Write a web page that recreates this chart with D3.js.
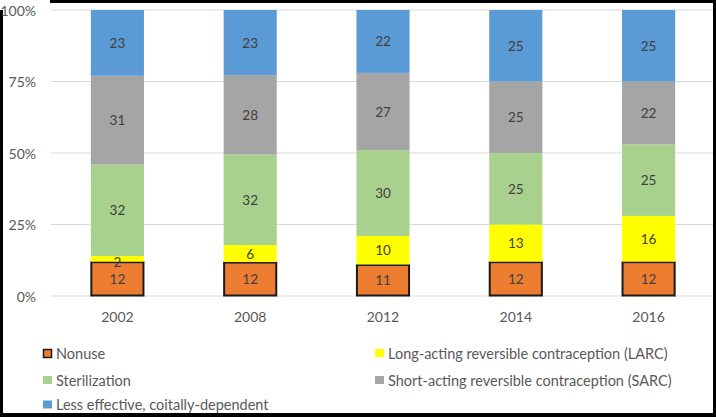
<!DOCTYPE html>
<html><head><meta charset="utf-8">
<script src="https://cdn.jsdelivr.net/npm/d3@7"></script>
<style>body{margin:0;background:#fff}svg{display:block}text{font-family:Lato,"Open Sans",sans-serif}</style>
</head><body><svg id="c" width="716" height="417"></svg>
<script>
const years = ["2002","2008","2012","2014","2016"];
const seriesNames = ["Nonuse","Long-acting reversible contraception (LARC)","Sterilization","Short-acting reversible contraception (SARC)","Less effective, coitally-dependent"];
const nonuse = [12,12,11,12,12];
const larc = [2,6,10,13,16];
const sterilization = [32,32,30,25,25];
const sarc = [31,28,27,25,22];
const lessEffective = [23,23,22,25,25];
const colors = ["#ED7D31","#FFFF00","#A9D18E","#A5A5A5","#5B9BD5"];
const yTicks = [0,0.25,0.5,0.75,1];

const svg = d3.select("#c");
const W=716,H=417;
svg.append("rect").attr("width",W).attr("height",H).attr("fill","#fff");

const x = d3.scaleBand().domain(years).range([51,715]).paddingInner(0.6).paddingOuter(0.3);
const y = d3.scaleLinear().domain([0,1]).range([296,10]);

// gridlines
svg.append("g").selectAll("line").data(yTicks).join("line")
  .attr("x1",51).attr("x2",713).attr("y1",d=>y(d)).attr("y2",d=>y(d))
  .attr("stroke","#D9D9D9").attr("stroke-width",1);

const table = years.map((yr,i)=>({year:yr, s0:nonuse[i], s1:larc[i], s2:sterilization[i], s3:sarc[i], s4:lessEffective[i]}));
const keys=["s0","s1","s2","s3","s4"];
const stack = d3.stack().keys(keys).offset(d3.stackOffsetExpand)(table);

const g = svg.append("g");
stack.forEach((layer,li)=>{
  const lg = g.append("g");
  lg.selectAll("rect").data(layer).join("rect")
    .attr("x",d=>x(d.data.year)+(li===0?0.5:0)).attr("width",x.bandwidth()-(li===0?1:0))
    .attr("y",d=>y(d[1])+(li===0?0.5:0)).attr("height",d=>y(d[0])-y(d[1])-(li===0?1:0))
    .attr("fill",colors[li])
    .attr("stroke",li===0?"#1a1a1a":"none").attr("stroke-width",li===0?2:0);
});
// labels
stack.forEach((layer,li)=>{
  g.append("g").selectAll("text").data(layer).join("text")
    .attr("x",d=>x(d.data.year)+x.bandwidth()/2)
    .attr("y",d=>(y(d[0])+y(d[1]))/2+ (li===1 && d.data[keys[li]]<4 ? 3 : 0))
    .attr("text-anchor","middle").attr("dominant-baseline","central")
    .attr("fill","#404040").attr("font-size",13.5)
    .text(d=>d.data[keys[li]]);
});

// x axis labels
svg.append("g").selectAll("text").data(years).join("text")
  .attr("x",d=>x(d)+x.bandwidth()/2).attr("y",316).attr("text-anchor","middle")
  .attr("dominant-baseline","central").attr("fill","#595959").attr("font-size",14).text(d=>d);

// border
svg.append("rect").attr("x",1.5).attr("y",1.5).attr("width",W-3).attr("height",H-3)
  .attr("fill","none").attr("stroke","#000").attr("stroke-width",3);
svg.append("rect").attr("x",0).attr("y",0).attr("width",50).attr("height",10).attr("fill","#fff");
svg.append("rect").attr("x",0).attr("y",H-4).attr("width",W).attr("height",4).attr("fill","#000");

// y axis labels
svg.append("g").selectAll("text").data(yTicks).join("text")
  .attr("x",36).attr("y",d=>y(d)).attr("text-anchor","end").attr("dominant-baseline","central")
  .attr("fill","#595959").attr("font-size",14).text(d=>d3.format(".0%")(d));

// legend
const legPos = [[43,353],[375,353],[43,380],[375,380],[43,404.5]];
const leg = svg.append("g").selectAll("g").data(seriesNames).join("g")
  .attr("transform",(d,i)=>`translate(${legPos[i][0]},${legPos[i][1]})`);
leg.append("rect").attr("x",(d,i)=>i===0?0.5:0).attr("y",(d,i)=>i===0?-3.5:-4).attr("width",(d,i)=>i===0?8:9).attr("height",8)
  .attr("fill",(d,i)=>colors[i]).attr("stroke",(d,i)=>i===0?"#1a1a1a":"none").attr("stroke-width",1.5);
leg.append("text").attr("x",13).attr("y",0).attr("dominant-baseline","central")
  .attr("fill","#595959").attr("font-size",14.5).text(d=>d);
</script></body></html>
